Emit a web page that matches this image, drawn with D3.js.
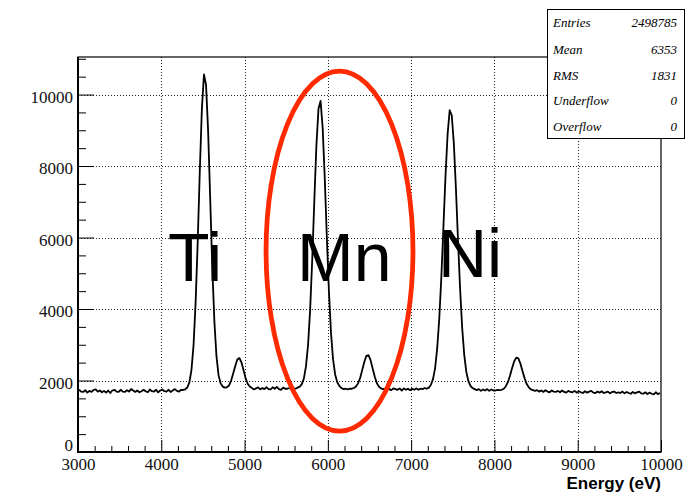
<!DOCTYPE html>
<html>
<head>
<meta charset="utf-8">
<script src="https://cdn.jsdelivr.net/npm/d3@7"></script>
<style>
  body { margin: 0; background: #fff; }
  svg { display: block; }
  .serif { font-family: "Liberation Serif", "Times New Roman", "DejaVu Serif", serif; }
  .sans { font-family: "Liberation Sans", Arial, Helvetica, sans-serif; }
</style>
</head>
<body>
<svg id="chart" width="690" height="494"></svg>
<script>
// Energy spectrum: 280 bins of 25 eV from 3000 eV to 10000 eV
const binLow = 3000;
const binWidth = 25;
const counts = [
  1740,1690,1680,1730,1660,1710,1680,1740,1750,1690,
  1720,1670,1710,1660,1720,1650,1720,1740,1690,1680,
  1740,1690,1680,1730,1690,1760,1720,1680,1720,1670,
  1700,1740,1700,1670,1750,1700,1690,1740,1670,1720,
  1750,1700,1690,1740,1680,1720,1760,1710,1690,1740,
  1735,1750,1805,1950,2300,2990,4200,5890,7860,9600,
  10560,10270,8970,7070,5160,3660,2680,2150,1920,1830,
  1800,1810,1860,1990,2190,2400,2590,2630,2510,2290,
  2060,1910,1830,1790,1750,1780,1810,1750,1790,1760,
  1810,1760,1750,1810,1770,1820,1760,1740,1800,1770,
  1770,1790,1760,1780,1770,1800,1830,1900,2060,2400,
  3000,3990,5390,7030,8570,9600,9820,9070,7680,6030,
  4510,3340,2590,2170,1950,1850,1790,1760,1770,1750,
  1770,1770,1790,1830,1920,2070,2290,2520,2690,2710,
  2570,2340,2110,1930,1830,1780,1760,1770,1750,1760,
  1730,1780,1760,1740,1780,1720,1780,1740,1770,1730,
  1770,1740,1780,1740,1770,1760,1790,1770,1800,1880,
  2040,2340,2890,3720,4890,6290,7710,8880,9560,9420,
  8640,7380,5930,4580,3480,2720,2240,1980,1850,1790,
  1760,1730,1760,1710,1750,1720,1760,1710,1750,1720,
  1720,1740,1730,1740,1770,1840,1960,2140,2350,2540,
  2640,2620,2470,2260,2060,1900,1810,1750,1730,1710,
  1730,1690,1720,1680,1730,1690,1670,1720,1690,1680,
  1710,1670,1720,1680,1660,1710,1680,1670,1710,1660,
  1700,1670,1650,1700,1660,1690,1710,1660,1650,1690,
  1660,1700,1650,1670,1690,1640,1680,1690,1650,1670,
  1650,1690,1640,1680,1650,1630,1680,1640,1670,1690,
  1640,1630,1670,1620,1660,1630,1610,1670,1620,1650
];

const xTicks = [3000, 4000, 5000, 6000, 7000, 8000, 9000, 10000];
const yTicks = [0, 2000, 4000, 6000, 8000, 10000];
const xTitle = "Energy (eV)";

const statNames = ["Entries", "Mean", "RMS", "Underflow", "Overflow"];
const statValues = ["2498785", "6353", "1831", "0", "0"];

const elements = ["Ti", "Mn", "Ni"];

// ---------------------------------------------------------------
const svg = d3.select("#chart");
svg.append("rect").attr("width", 690).attr("height", 494).attr("fill", "#fff");

const frame = { left: 78, right: 661, top: 57, bottom: 452 };
const x = d3.scaleLinear().domain([3000, 10000]).range([frame.left, frame.right]);
const y = d3.scaleLinear().domain([0, 11050]).range([frame.bottom, frame.top]);

// dotted grid at the major ticks
const grid = svg.append("g")
  .attr("stroke", "#222").attr("stroke-width", 1).attr("stroke-dasharray", "1,2");
grid.selectAll("line.gx").data(xTicks.slice(1, -1)).join("line")
  .attr("x1", d => Math.round(x(d)) + 0.5).attr("x2", d => Math.round(x(d)) + 0.5)
  .attr("y1", frame.top).attr("y2", frame.bottom);
grid.selectAll("line.gy").data(yTicks.slice(1)).join("line")
  .attr("y1", d => Math.round(y(d)) + 0.5).attr("y2", d => Math.round(y(d)) + 0.5)
  .attr("x1", frame.left).attr("x2", frame.right);

// minor tick values
const xMinor = d3.range(3000, 10001, 200).filter(v => v % 1000 !== 0);
const yMinor = d3.range(0, 11001, 500).filter(v => v % 2000 !== 0);

// x axis (ticks point into the frame)
const gx = svg.append("g").attr("transform", `translate(0,${frame.bottom})`);
gx.call(d3.axisBottom(x).tickValues(xTicks).tickSize(-12).tickPadding(6).tickFormat(d3.format("d")));
svg.append("g").attr("transform", `translate(0,${frame.bottom})`)
  .call(d3.axisBottom(x).tickValues(xMinor).tickSize(-6).tickFormat(""))
  .call(g => g.select(".domain").remove());

// y axis
const gy = svg.append("g").attr("transform", `translate(${frame.left},0)`);
gy.call(d3.axisLeft(y).tickValues(yTicks).tickSize(-16).tickPadding(5).tickFormat(d3.format("d")));
svg.append("g").attr("transform", `translate(${frame.left},0)`)
  .call(d3.axisLeft(y).tickValues(yMinor).tickSize(-8).tickFormat(""))
  .call(g => g.select(".domain").remove());

svg.selectAll(".tick line").attr("stroke", "#000").attr("stroke-width", 1);
[gx, gy].forEach(g => {
  g.select(".domain").remove();
  g.attr("font-family", null).attr("font-size", null);
  g.selectAll("text")
    .attr("class", "serif").style("font-size", "17px").attr("fill", "#111");
});
gy.selectAll("text").attr("dy", "0.45em");
gy.selectAll(".tick").filter(d => d === 0).select("text").attr("dy", "-0.1em");

// frame
svg.append("rect")
  .attr("x", frame.left).attr("y", frame.top)
  .attr("width", frame.right - frame.left).attr("height", frame.bottom - frame.top)
  .attr("fill", "none").attr("stroke", "#000").attr("stroke-width", 1.2);
svg.append("path")
  .attr("d", `M${frame.left},${frame.top}V${frame.bottom}H${frame.right}`)
  .attr("fill", "none").attr("stroke", "#000").attr("stroke-width", 2);

// histogram outline
svg.append("clipPath").attr("id", "plot-clip").append("rect")
  .attr("x", frame.left).attr("y", frame.top)
  .attr("width", frame.right - frame.left).attr("height", frame.bottom - frame.top);
const line = d3.line()
  .x((d, i) => x(binLow + (i + 0.5) * binWidth))
  .y(d => y(d));
svg.append("path")
  .datum(counts)
  .attr("clip-path", "url(#plot-clip)")
  .attr("d", line)
  .attr("fill", "none").attr("stroke", "#000")
  .attr("stroke-width", 1.8).attr("stroke-linejoin", "round");

// x axis title
svg.append("text")
  .attr("class", "sans")
  .attr("x", frame.right).attr("y", 489)
  .attr("text-anchor", "end")
  .style("font-weight", "bold").style("font-size", "17px")
  .text(xTitle);

// element labels
const labelAnchors = [[4080, 4790], [5630, 4790], [7322, 4900]];
svg.append("g").selectAll("text").data(elements).join("text")
  .attr("class", "sans")
  .attr("x", (d, i) => x(labelAnchors[i][0]))
  .attr("y", (d, i) => y(labelAnchors[i][1]))
  .style("font-size", "68px").attr("fill", "#000")
  .text(d => d);

// red ellipse around the Mn lines
svg.append("ellipse")
  .attr("cx", x(6140)).attr("cy", y(5620))
  .attr("rx", x(6140 + 882) - x(6140)).attr("ry", y(0) - y(5035))
  .attr("fill", "none").attr("stroke", "#ff2a00").attr("stroke-width", 4.8);

// statistics box
const box = { x: 547, y: 9, w: 137, h: 129 };
svg.append("rect")
  .attr("x", box.x + 0.5).attr("y", box.y + 0.5).attr("width", box.w).attr("height", box.h)
  .attr("fill", "#fff").attr("stroke", "#000").attr("stroke-width", 1);
const rowY = [22, 49, 75, 100, 126];
const stats = svg.append("g").attr("fill", "#000");
stats.selectAll("text.name").data(statNames).join("text")
  .attr("class", "serif").style("font-style", "italic").style("font-size", "13px")
  .attr("x", box.x + 6).attr("y", (d, i) => rowY[i] + 4.5)
  .text(d => d);
stats.selectAll("text.val").data(statValues).join("text")
  .attr("class", "serif").style("font-style", "italic").style("font-size", "13px")
  .attr("x", box.x + box.w - 7).attr("y", (d, i) => rowY[i] + 4.5)
  .attr("text-anchor", "end")
  .text(d => d);
</script>
</body>
</html>
